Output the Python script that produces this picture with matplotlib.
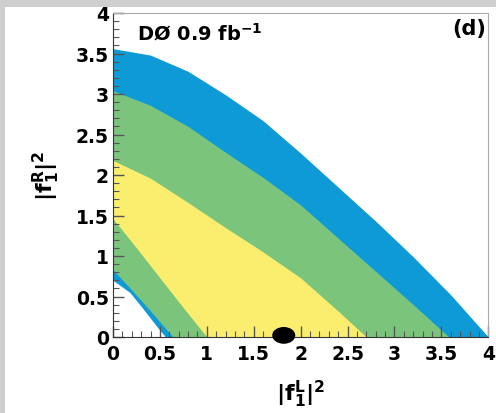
import matplotlib
matplotlib.use('Agg')
import matplotlib.pyplot as plt
from matplotlib.ticker import MultipleLocator
from matplotlib.patches import Rectangle, Ellipse

plt.rcParams['font.family'] = 'DejaVu Sans'
plt.rcParams['font.weight'] = 'bold'
plt.rcParams['mathtext.fontset'] = 'dejavusans'
plt.rcParams['mathtext.default'] = 'bf'

# contour edges (|f1L|^2 -> |f1R|^2)
blue_out_x = [0, 0.4, 0.8, 1.2, 1.6, 2.0, 2.4, 2.8, 3.2, 3.6, 4.0]
blue_out_y = [3.56, 3.48, 3.28, 2.99, 2.67, 2.27, 1.85, 1.43, 0.99, 0.52, 0.0]

green_out_x = [0, 0.4, 0.8, 1.2, 1.6, 2.0, 2.4, 2.8, 3.2, 3.58]
green_out_y = [3.04, 2.86, 2.60, 2.28, 1.97, 1.63, 1.22, 0.81, 0.40, 0.0]

yellow_out_x = [0, 0.4, 0.8, 1.2, 1.6, 2.0, 2.4, 2.7]
yellow_out_y = [2.18, 1.96, 1.66, 1.35, 1.05, 0.73, 0.32, 0.0]

yellow_in_x = [0, 0.25, 0.5, 0.75, 1.0]
yellow_in_y = [1.46, 1.10, 0.73, 0.36, 0.0]

green_in_x = [0, 0.2, 0.4, 0.64]
green_in_y = [0.83, 0.58, 0.32, 0.0]

blue_in_x = [0, 0.18, 0.32, 0.46, 0.56]
blue_in_y = [0.70, 0.55, 0.35, 0.14, 0.0]

best_fit = (1.82, 0.02)

c_blue = '#0d9ad6'
c_green = '#7bc47b'
c_yellow = '#fbee6e'

fig = plt.figure(figsize=(4.96, 4.14), dpi=100)
# screenshot shadow on top and left
fig.patches.append(Rectangle((0, 1 - 8/414), 1, 8/414, transform=fig.transFigure,
                             color='#cfcfcf', lw=0, zorder=-1))
fig.patches.append(Rectangle((0, 0), 5/496, 1, transform=fig.transFigure,
                             color='#cfcfcf', lw=0, zorder=-1))

ax = fig.add_axes([113/496, 76/414, 375.3/496, 324/414])

# layered fills, outermost first
ax.fill_between(blue_out_x, 0, blue_out_y, color=c_blue, lw=0)
ax.fill_between(green_out_x, 0, green_out_y, color=c_green, lw=0)
ax.fill_between(yellow_out_x, 0, yellow_out_y, color=c_yellow, lw=0)
ax.fill_between(yellow_in_x, 0, yellow_in_y, color=c_green, lw=0)
ax.fill_between(green_in_x, 0, green_in_y, color=c_blue, lw=0)
ax.fill_between(blue_in_x, 0, blue_in_y, color='white', lw=0)

ax.add_patch(Ellipse(best_fit, 0.23, 0.19, color='black', clip_on=False, zorder=5))

ax.set_xlim(0, 4)
ax.set_ylim(0, 4)
ax.xaxis.set_major_locator(MultipleLocator(0.5))
ax.yaxis.set_major_locator(MultipleLocator(0.5))
ax.xaxis.set_minor_locator(MultipleLocator(0.1))
ax.yaxis.set_minor_locator(MultipleLocator(0.1))
ax.xaxis.set_major_formatter(plt.FuncFormatter(lambda v, p: f'{v:g}'))
ax.yaxis.set_major_formatter(plt.FuncFormatter(lambda v, p: f'{v:g}'))

ax.tick_params(which='both', direction='in', top=False, right=False, color='#555555')
ax.tick_params(which='major', length=8, width=1, labelsize=13.5)
ax.tick_params(which='minor', length=4, width=0.8)
ax.tick_params(axis='x', pad=5)
ax.tick_params(axis='y', pad=3)

for s in ['left', 'bottom']:
    ax.spines[s].set_color('#333333')
for s in ['top', 'right']:
    ax.spines[s].set_color('#aaaaaa')

ax.set_xlabel(r'$|f_{1}^{L}|^{2}$', fontsize=16)
ax.set_ylabel(r'$|f_{1}^{R}|^{2}$', fontsize=16)
ax.xaxis.set_label_coords(0.5, -0.125)
ax.yaxis.set_label_coords(-0.135, 0.5)

ax.text(0.064, 0.92, r'DØ 0.9 fb$^{-1}$', transform=ax.transAxes,
        fontsize=14, fontweight='bold', ha='left', va='baseline')
ax.text(0.995, 0.985, '(d)', transform=ax.transAxes,
        fontsize=15, fontweight='bold', ha='right', va='top')

fig.savefig('out.png', dpi=100)
